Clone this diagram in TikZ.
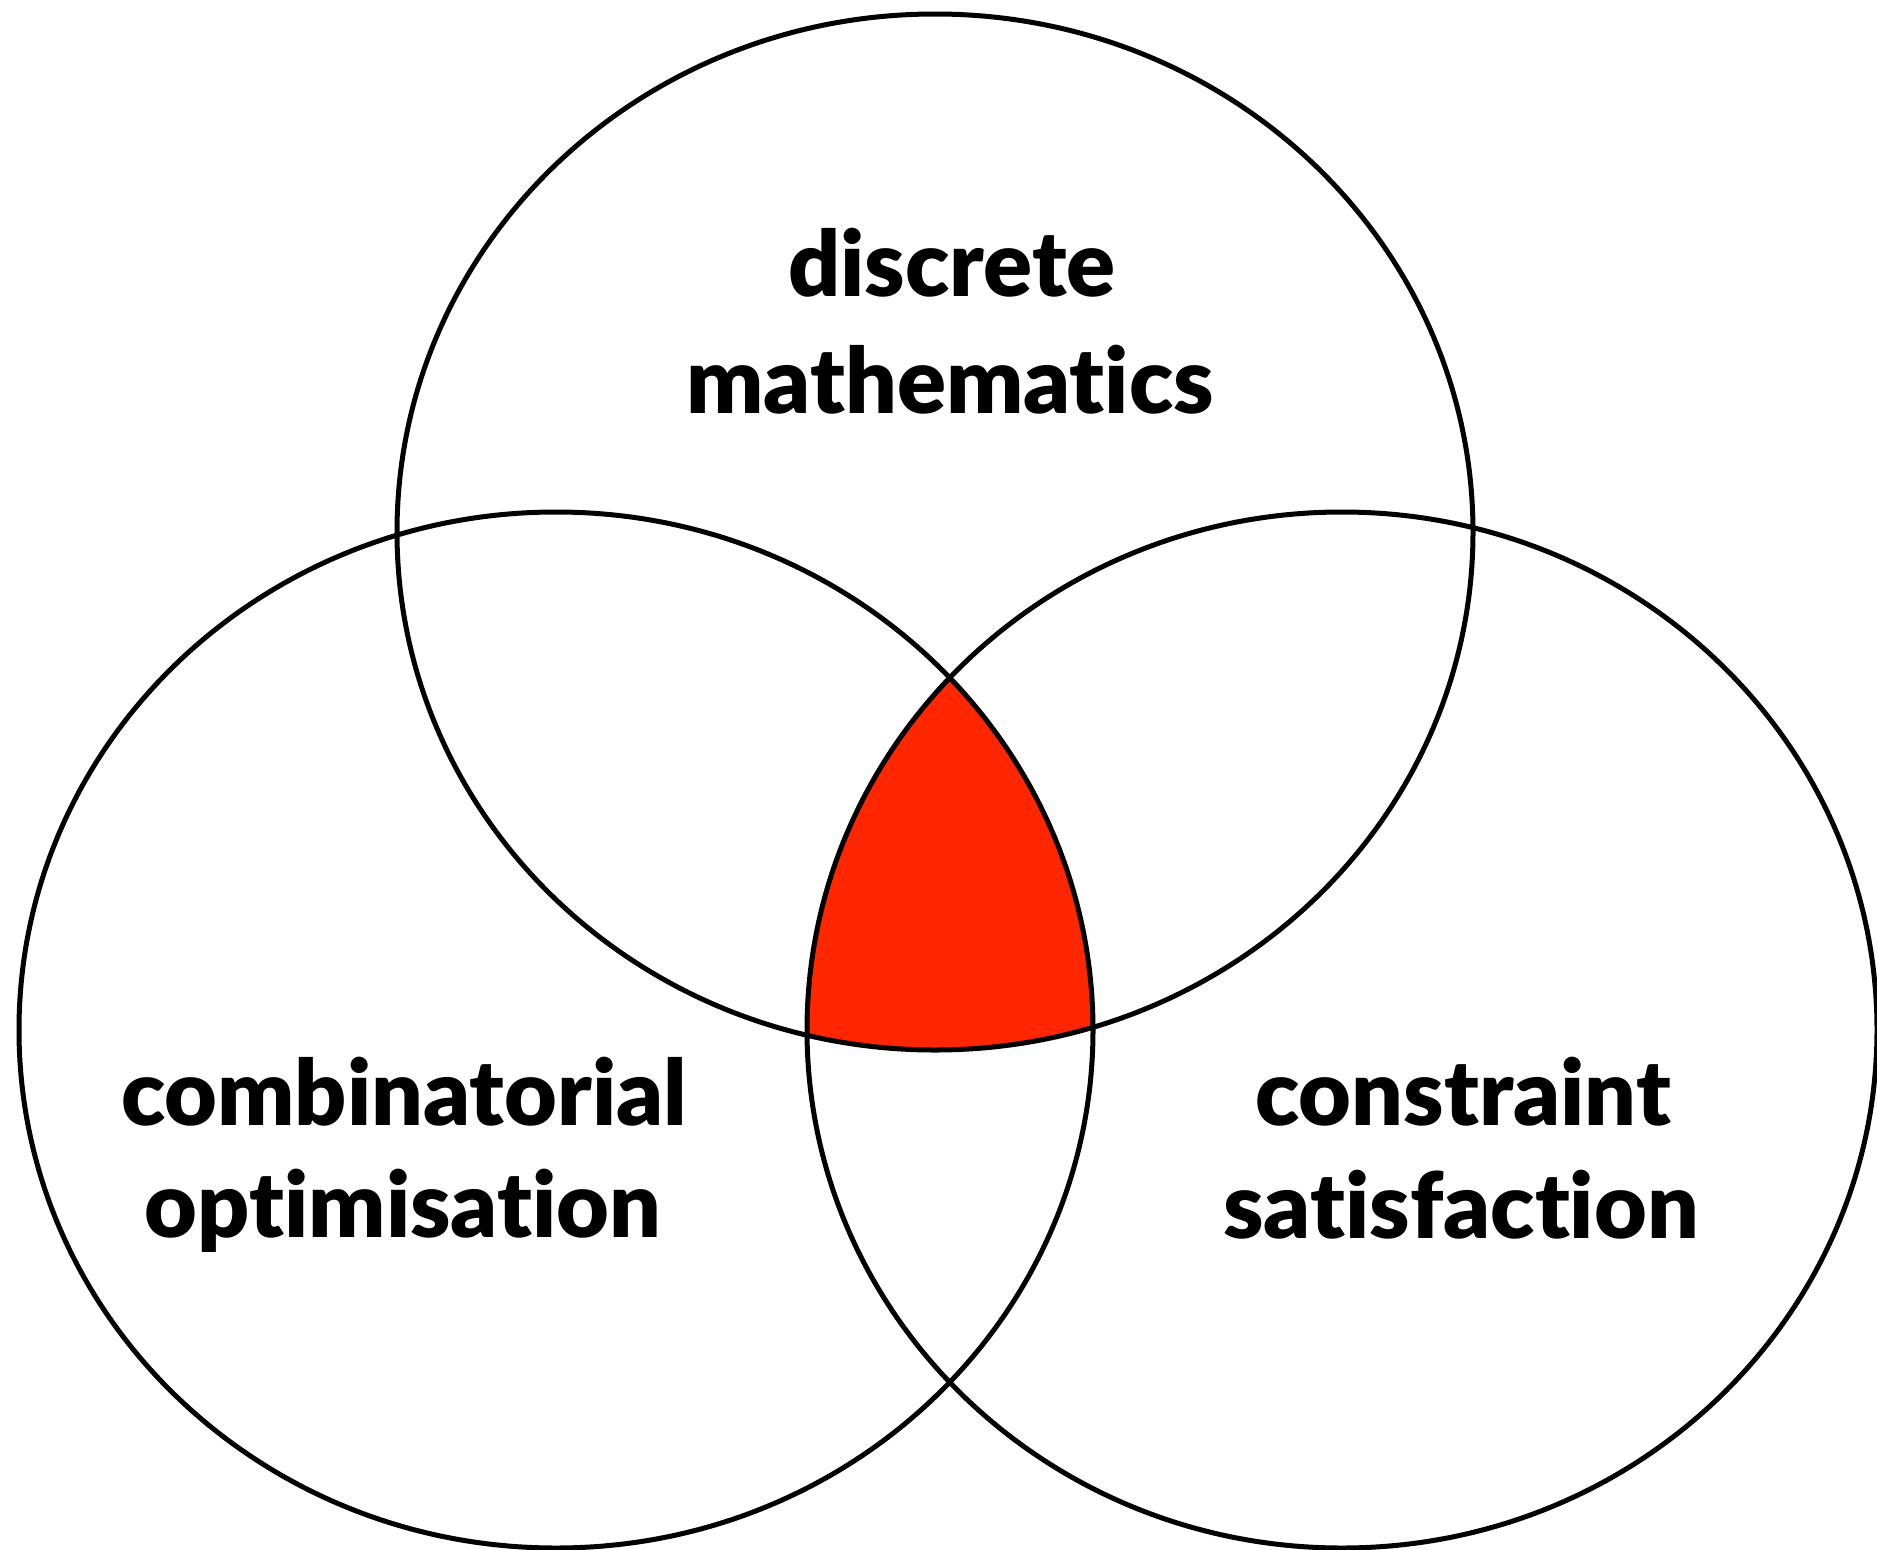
\documentclass[tikz,border=0pt]{standalone}
\usepackage{fontspec}
\setmainfont{Lato}[Ligatures={NoCommon}, BoldFont={Lato Black}]
\definecolor{hotred}{RGB}{255,38,0}
\tikzset{
  venn/.style={draw=black, line width=5pt},
  lbl/.style={anchor=base, inner sep=0pt, font=\fontsize{91}{110}\selectfont\bfseries},
}
\begin{document}
\begin{tikzpicture}[x=1pt,y=-1pt]
\useasboundingbox (0,0) rectangle (1877,1550);
\fill[white] (0,0) rectangle (1877,1550);
\begin{scope}
  \clip (935,532) ellipse [x radius=538pt, y radius=518pt];
  \clip (556,1030) ellipse [x radius=537pt, y radius=518pt];
  \fill[hotred] (1342,1030) ellipse [x radius=535pt, y radius=518pt];
\end{scope}
\draw[venn] (935,532) ellipse [x radius=538pt, y radius=518pt];
\draw[venn] (556,1030) ellipse [x radius=537pt, y radius=518pt];
\draw[venn] (1342,1030) ellipse [x radius=535pt, y radius=518pt];
\node[lbl] (d1) at (952,296) {discrete};
\node[lbl] (d2) at (950,413) {mathematics};
\node[lbl] (c1) at (404,1125) {combinatorial};
\node[lbl] (c2) at (403,1237) {optimisation};
\node[lbl] (s1) at (1463,1125) {constraint};
\node[lbl] (s2) at (1461,1238) {satisfaction};
\end{tikzpicture}
\end{document}
